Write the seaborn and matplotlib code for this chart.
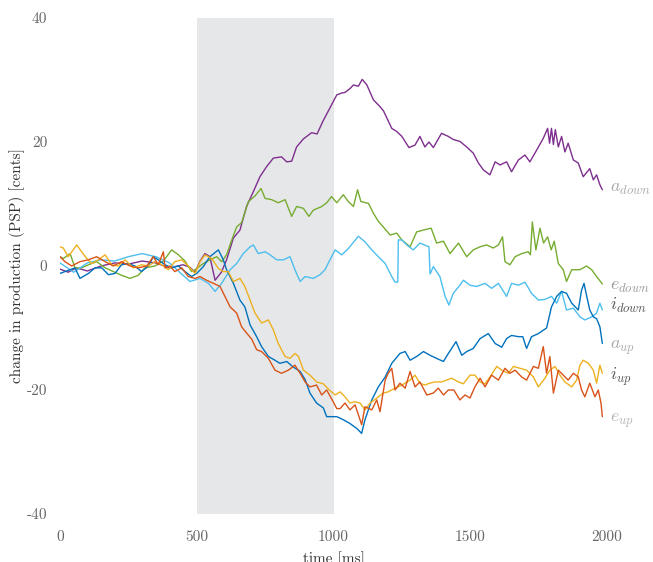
import numpy as np
import pandas as pd
import matplotlib
matplotlib.use("Agg")
import matplotlib.pyplot as plt
import seaborn as sns

# ---------------- data ----------------
t_a_down = [0, 30, 60, 100, 150, 200, 250, 300, 350, 400, 450, 475, 494, 512, 530, 548, 567, 590,
            609, 634, 658, 682, 707, 731, 755, 780, 810, 829, 847, 865, 890, 902, 920, 940, 963,
            987, 1012, 1030, 1042, 1060, 1073, 1091, 1105, 1122, 1146, 1170, 1183, 1213, 1231,
            1250, 1276, 1298, 1316, 1334, 1349, 1365, 1395, 1420, 1438, 1462, 1487, 1511, 1530,
            1548, 1572, 1591, 1609, 1633, 1651, 1676, 1700, 1718, 1743, 1767, 1783, 1790, 1797,
            1804, 1811, 1822, 1834, 1846, 1858, 1877, 1895, 1913, 1937, 1950, 1962, 1974, 1983]
v_a_down = [-0.5, -1.0, -0.3, -0.8, 0.0, 0.5, 0.3, 0.8, 0.5, -0.3, 0.2, -0.2, -1.0, 0.8, 2.0,
            1.5, -2.3, -1.0, 1.0, 4.5, 5.8, 9.6, 12.0, 14.4, 16.0, 17.4, 17.6, 16.8, 16.9, 19.2,
            20.5, 20.9, 21.5, 21.3, 23.5, 25.5, 27.6, 27.9, 28.0, 28.6, 29.2, 29.0, 30.1, 29.2,
            26.8, 25.7, 25.0, 22.2, 21.7, 20.9, 19.1, 19.5, 20.9, 19.2, 20.0, 19.1, 21.4, 20.9,
            20.4, 20.1, 19.2, 18.2, 16.6, 15.5, 14.7, 16.8, 16.3, 16.8, 15.2, 17.1, 17.9, 16.8,
            18.7, 20.6, 22.2, 19.8, 22.2, 19.6, 22.0, 19.2, 20.9, 18.4, 19.8, 17.1, 16.6, 14.4,
            15.7, 13.9, 14.7, 13.1, 12.3]

t_e_down = [0, 12, 37, 55, 79, 104, 134, 165, 195, 225, 256, 286, 311, 347, 378, 408, 433, 457,
            481, 494, 524, 548, 573, 591, 609, 628, 646, 664, 689, 713, 735, 750, 774, 798, 823,
            847, 865, 890, 910, 926, 957, 975, 993, 1012, 1036, 1054, 1073, 1088, 1100, 1128,
            1146, 1164, 1182, 1207, 1231, 1250, 1280, 1304, 1329, 1357, 1377, 1402, 1426, 1457,
            1487, 1511, 1536, 1560, 1584, 1603, 1618, 1627, 1645, 1664, 1688, 1712, 1720, 1727,
            1740, 1755, 1768, 1783, 1796, 1807, 1822, 1840, 1852, 1871, 1901, 1925, 1944, 1962,
            1983]
v_e_down = [1.5, 1.2, 2.0, -0.3, -0.3, 0.2, 0.7, -0.3, -0.9, -1.5, -2.0, -1.5, -0.3, 0.0, 0.8,
            2.6, 1.8, 0.8, -0.9, -0.6, 0.4, 1.0, 1.5, 0.7, 1.8, 4.2, 6.3, 7.0, 10.4, 11.3, 12.5,
            10.9, 10.7, 10.2, 10.7, 8.0, 9.6, 9.3, 8.0, 9.0, 9.6, 10.2, 11.2, 10.2, 11.5, 10.4,
            9.6, 12.3, 10.4, 10.1, 8.5, 7.2, 6.3, 5.0, 5.3, 4.2, 3.1, 5.5, 5.8, 6.1, 3.7, 4.0,
            2.0, 3.7, 1.5, 2.6, 3.1, 3.4, 2.9, 3.4, 4.7, 0.7, 0.2, 1.5, 2.0, 2.3, 1.8, 7.1, 2.6,
            6.1, 3.7, 4.7, 2.6, 4.0, 0.4, -0.6, -2.5, -0.6, -0.6, 0.0, -0.6, -1.7, -2.9]

t_i_down = [0, 50, 100, 150, 200, 250, 300, 350, 400, 450, 475, 512, 543, 567, 591, 622, 646,
            670, 695, 707, 725, 750, 768, 792, 817, 841, 859, 878, 896, 926, 951, 969, 987, 1006,
            1030, 1054, 1091, 1115, 1140, 1164, 1189, 1213, 1225, 1235, 1237, 1250, 1268, 1292,
            1316, 1349, 1353, 1365, 1389, 1408, 1422, 1438, 1462, 1475, 1499, 1523, 1554, 1578,
            1603, 1633, 1651, 1676, 1700, 1724, 1749, 1773, 1797, 1816, 1834, 1852, 1877, 1901,
            1919, 1944, 1962, 1974, 1983]
v_i_down = [0.5, -1.0, 0.5, 1.0, 0.8, 1.5, 2.0, 1.5, 0.5, -1.5, -2.5, -2.0, -2.8, -4.1, -2.8,
            -0.6, 0.4, 2.0, 3.1, 3.4, 2.0, 2.3, 1.8, 1.0, 1.0, 1.5, -0.6, -2.5, -1.7, -2.0, -1.4,
            -0.6, 1.0, 2.6, 1.8, 2.8, 4.8, 3.9, 2.6, 1.5, 0.4, -1.7, -2.6, -2.6, 4.2, 4.2, 3.4,
            2.6, 3.7, 3.1, -1.3, -0.1, -1.7, -4.9, -6.3, -4.4, -3.1, -2.3, -3.1, -3.3, -2.8, -3.6,
            -2.8, -4.9, -2.8, -3.1, -2.6, -4.4, -5.5, -5.4, -4.9, -6.0, -4.1, -7.1, -6.8, -8.2,
            -8.7, -8.2, -7.6, -6.0, -7.1]

t_a_up = [0, 30, 55, 73, 104, 128, 153, 177, 201, 225, 250, 274, 298, 323, 341, 359, 384, 408,
          433, 457, 481, 500, 524, 548, 579, 597, 609, 634, 658, 676, 695, 719, 737, 762, 786,
          804, 829, 853, 878, 896, 914, 938, 963, 975, 1012, 1036, 1060, 1085, 1103, 1115, 1140,
          1164, 1189, 1213, 1243, 1262, 1280, 1304, 1329, 1353, 1377, 1402, 1420, 1448, 1469,
          1487, 1511, 1536, 1566, 1591, 1615, 1633, 1651, 1676, 1692, 1706, 1724, 1749, 1779,
          1797, 1816, 1834, 1852, 1871, 1895, 1907, 1916, 1926, 1937, 1950, 1962, 1974, 1983]
v_a_up = [-1.2, -0.7, -0.3, -2.0, -1.2, -0.3, -0.3, -1.4, -1.2, 0.2, 0.4, 0.0, -0.9, 0.0, 1.5,
          1.0, 0.2, -0.3, 0.0, -0.9, -1.7, -1.2, -0.1, 1.5, 2.6, 1.0, -0.6, -2.8, -5.5, -6.6,
          -9.5, -11.4, -13.0, -14.6, -15.2, -15.7, -15.4, -16.3, -17.0, -18.3, -20.5, -22.1,
          -22.9, -24.3, -24.3, -24.8, -25.4, -26.2, -27.0, -24.8, -21.6, -19.5, -17.9, -15.7,
          -14.1, -13.8, -15.2, -14.6, -13.8, -14.4, -14.9, -15.4, -14.1, -12.2, -14.4, -13.8,
          -13.3, -11.7, -10.9, -12.5, -13.1, -11.7, -11.2, -11.4, -11.4, -13.3, -11.4, -10.9,
          -10.0, -6.6, -4.9, -4.1, -4.4, -6.0, -7.1, -3.9, -2.8, -4.9, -7.1, -8.2, -8.5, -9.8,
          -12.5]

t_i_up = [0, 12, 30, 61, 79, 98, 116, 140, 165, 189, 213, 238, 268, 298, 323, 347, 372, 396,
          420, 445, 469, 494, 512, 530, 555, 579, 597, 615, 634, 658, 676, 695, 713, 737, 762,
          780, 798, 823, 841, 859, 872, 890, 914, 938, 963, 987, 1006, 1024, 1042, 1060, 1079,
          1097, 1115, 1134, 1158, 1182, 1200, 1225, 1250, 1280, 1298, 1316, 1334, 1352, 1371,
          1395, 1414, 1432, 1457, 1475, 1499, 1517, 1536, 1554, 1572, 1597, 1615, 1639, 1658,
          1682, 1706, 1731, 1749, 1773, 1791, 1810, 1828, 1846, 1871, 1889, 1901, 1913, 1932,
          1950, 1962, 1974, 1983]
v_i_up = [3.1, 2.9, 1.5, 3.4, 2.3, 1.2, 0.4, 1.0, 1.8, 0.2, 0.0, 1.0, -0.3, 0.2, 0.0, 0.7, 0.2,
          -0.6, 0.7, 1.0, 0.0, -1.2, 0.7, 1.8, 1.2, -0.4, -0.9, -0.9, -2.5, -2.0, -3.3, -5.5,
          -7.6, -9.2, -8.7, -10.3, -12.5, -14.6, -14.9, -14.1, -14.6, -16.8, -17.6, -18.7,
          -19.0, -20.1, -20.8, -20.3, -21.1, -22.1, -21.9, -22.1, -23.2, -22.1, -21.3, -20.5,
          -20.3, -19.7, -19.2, -18.4, -17.6, -18.9, -19.2, -18.9, -18.7, -18.7, -18.4, -18.1,
          -18.7, -19.0, -17.6, -17.6, -18.7, -19.0, -17.9, -16.2, -16.8, -17.3, -16.2, -16.5,
          -16.8, -17.9, -19.5, -18.1, -16.8, -16.2, -17.6, -18.7, -19.5, -18.4, -16.0, -15.2,
          -15.7, -16.8, -18.9, -16.0, -17.3]

t_e_up = [0, 18, 43, 73, 104, 134, 165, 195, 225, 256, 286, 317, 341, 359, 378, 384, 402, 420,
          445, 469, 494, 512, 536, 561, 585, 603, 622, 646, 664, 682, 701, 719, 737, 762, 786,
          810, 835, 859, 878, 896, 914, 938, 957, 975, 999, 1012, 1024, 1042, 1060, 1079, 1103,
          1115, 1140, 1158, 1170, 1189, 1200, 1213, 1225, 1243, 1262, 1280, 1298, 1316, 1341,
          1365, 1383, 1402, 1420, 1440, 1462, 1481, 1499, 1517, 1536, 1554, 1578, 1603, 1627,
          1645, 1664, 1688, 1706, 1731, 1749, 1767, 1779, 1791, 1804, 1822, 1840, 1858, 1877,
          1895, 1907, 1919, 1937, 1956, 1968, 1978, 1983]
v_e_up = [1.5, 0.7, 0.0, 0.7, 1.0, 1.5, 0.7, 0.0, 0.7, 0.0, -0.3, 0.0, 1.5, 0.2, 2.3, -0.3, 0.0,
          -0.9, -0.3, -1.7, -2.0, -1.7, -2.3, -2.8, -3.3, -4.9, -6.6, -7.6, -9.8, -10.8, -11.8,
          -13.5, -13.8, -14.9, -16.8, -17.3, -16.8, -16.0, -17.3, -18.7, -19.5, -19.2, -20.8,
          -20.0, -21.9, -23.0, -23.0, -22.1, -23.2, -22.4, -25.6, -22.7, -23.2, -21.6, -23.5,
          -18.4, -17.3, -16.5, -20.0, -18.9, -19.7, -17.0, -19.5, -18.7, -20.8, -20.5, -19.7,
          -20.8, -20.0, -20.0, -21.6, -20.8, -21.3, -19.5, -18.1, -19.5, -17.6, -18.4, -16.5,
          -17.3, -16.8, -17.9, -18.4, -16.2, -16.5, -13.0, -17.3, -14.6, -20.5, -16.8, -17.6,
          -18.4, -17.3, -17.9, -20.0, -21.1, -18.9, -21.1, -20.0, -22.1, -24.3]

series_names = ["a_down", "e_down", "i_down", "a_up", "i_up", "e_up"]
series_t = [t_a_down, t_e_down, t_i_down, t_a_up, t_i_up, t_e_up]
series_v = [v_a_down, v_e_down, v_i_down, v_a_up, v_i_up, v_e_up]
label_tex = [r"$a_{down}$", r"$e_{down}$", r"$i_{down}$", r"$a_{up}$", r"$i_{up}$", r"$e_{up}$"]
label_y = [12.3, -3.4, -6.3, -13.2, -17.9, -25.0]

x_ticks = [0, 500, 1000, 1500, 2000]
y_ticks = [-40, -20, 0, 20, 40]
y_ticklabels = ["-40", "-20", "0", "20", "40"]
stim_window = (500, 1000)

# ---------------- styling ----------------
sns.set_theme(style="white")
plt.rcParams["font.family"] = "serif"
plt.rcParams["font.serif"] = ["cmr10", "DejaVu Serif"]
plt.rcParams["mathtext.fontset"] = "cm"
plt.rcParams["axes.unicode_minus"] = False

palette = {
    "a_down": "#7E2F8E",
    "e_down": "#77AC30",
    "i_down": "#4DBEEE",
    "a_up": "#0072BD",
    "i_up": "#EDB120",
    "e_up": "#D95319",
}
label_colors = ["#aaaaaa", "#999999", "#555555", "#aaaaaa", "#555555", "#b5b5b5"]

frames = []
for name, t, v in zip(series_names, series_t, series_v):
    frames.append(pd.DataFrame({"time": t, "value": v, "series": name}))
df = pd.concat(frames, ignore_index=True)

fig = plt.figure(figsize=(6.53, 5.62), dpi=100)
ax = fig.add_axes([60 / 653, 1 - 514 / 562, 547 / 653, 496 / 562])

ax.axvspan(stim_window[0], stim_window[1], color="#e6e7e9", zorder=0, lw=0)

sns.lineplot(data=df, x="time", y="value", hue="series", palette=palette,
             estimator=None, sort=False, linewidth=1.0, legend=False, ax=ax, zorder=2)

for txt, yv, c in zip(label_tex, label_y, label_colors):
    ax.text(2012, yv, txt, color=c, fontsize=13, va="center", ha="left", clip_on=False)

ax.set_xlim(0, 2000)
ax.set_ylim(-40, 40)
ax.set_xticks(x_ticks)
ax.set_xticklabels([str(x) for x in x_ticks])
ax.set_yticks(y_ticks)
ax.set_yticklabels(y_ticklabels)
ax.tick_params(axis="both", length=0, labelsize=11, labelcolor="#666666")
ax.tick_params(axis="x", pad=12)
ax.tick_params(axis="y", pad=9)
for s in ax.spines.values():
    s.set_visible(False)
ax.grid(False)

ax.set_xlabel("time [ms]", fontsize=11, color="#333333")
ax.set_ylabel("change in production (PSP) [cents]", fontsize=11, color="#333333")
ax.xaxis.set_label_coords(0.5, -0.076)
ax.yaxis.set_label_coords(-0.064, 0.5)

fig.savefig("out.png", dpi=100)
